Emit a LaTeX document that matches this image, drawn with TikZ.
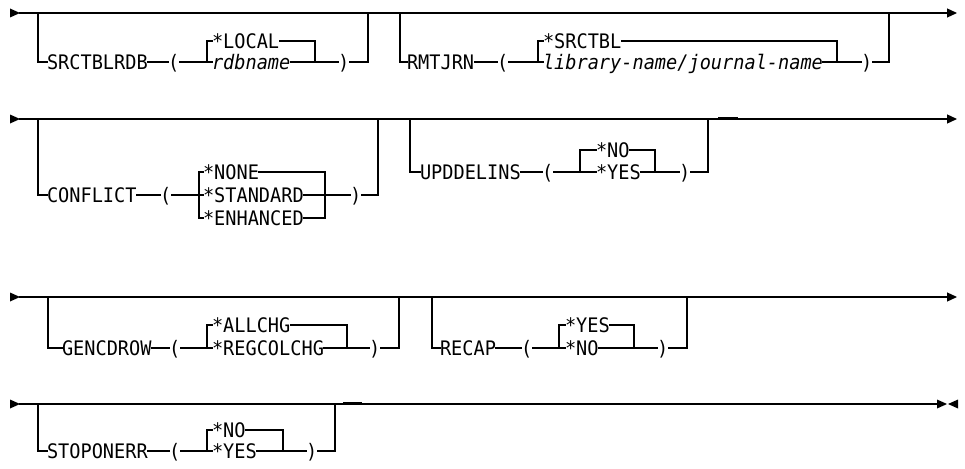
\documentclass[tikz,border=0pt]{standalone}
\usepackage{fontspec}
\usetikzlibrary{arrows.meta}
\newfontfamily\dmono{DejaVu Sans Mono}[FakeStretch=0.93]
\tikzset{
  rail/.style={line width=1.2pt, line cap=rect, line join=miter},
  word/.style={inner sep=0pt, outer sep=0pt, anchor=west, text height=14.6pt, text depth=0pt,
    font={\dmono\fontsize{20pt}{22pt}\selectfont}},
  var/.style={word, font={\dmono\itshape\fontsize{20pt}{22pt}\selectfont}},
  tipend/.style={-{Triangle[length=10pt,width=9pt]}},
  knob/.style={line width=2.6pt, line cap=butt},
}
\begin{document}
\begin{tikzpicture}[x=1pt,y=-1pt]
\useasboundingbox (0,0) rectangle (965,468);

% ---------- line 1 ----------
\coordinate (m1s) at (20,13);
\coordinate (m1e) at (957,13);
\fill (10,8.5) -- (m1s) -- (10,17.5) -- cycle;
\draw[rail,tipend] (m1s) -- (m1e);

% SRCTBLRDB
\coordinate (aL) at (38,13);
\node[word] (a1) at (47,62) {SRCTBLRDB};
\node[word] (a2) at (168,62) {(};
\node[word] (a3) at (212,41) {*LOCAL};
\node[var]  (a4) at (212,62) {rdbname};
\node[word] (a5) at (338,62) {)};
\coordinate (aS) at (207,62);
\coordinate (aR) at (315,62);
\coordinate (aB) at (368,13);
\draw[rail] (aL) |- (a1.west);
\draw[rail] (a1.east) -- (a2.west);
\draw[rail] (a2.east) -- (a4.west);
\draw[rail] (aS) |- (a3.west);
\draw[rail] (a3.east) -| (aR);
\draw[rail] (a4.east) -- (a5.west);
\draw[rail] (a5.east) -| (aB);

% RMTJRN
\coordinate (bL) at (400,13);
\node[word] (b1) at (407,62) {RMTJRN};
\node[word] (b2) at (497,62) {(};
\node[word] (b3) at (543,41) {*SRCTBL};
\node[var]  (b4) at (543,62) {library-name/journal-name};
\node[word] (b5) at (861,62) {)};
\coordinate (bS) at (538,62);
\coordinate (bR) at (837,62);
\coordinate (bB) at (889,13);
\draw[rail] (bL) |- (b1.west);
\draw[rail] (b1.east) -- (b2.west);
\draw[rail] (b2.east) -- (b4.west);
\draw[rail] (bS) |- (b3.west);
\draw[rail] (b3.east) -| (bR);
\draw[rail] (b4.east) -- (b5.west);
\draw[rail] (b5.east) -| (bB);

% ---------- line 2 ----------
\coordinate (m2s) at (20,119);
\coordinate (m2e) at (957,119);
\fill (10,114.5) -- (m2s) -- (10,123.5) -- cycle;
\draw[rail,tipend] (m2s) -- (m2e);

% CONFLICT
\coordinate (cL) at (38,119);
\node[word] (c1) at (47,195) {CONFLICT};
\node[word] (c2) at (160,195) {(};
\node[word] (c3) at (203,172) {*NONE};
\node[word] (c4) at (203,195) {*STANDARD};
\node[word] (c5) at (203,218) {*ENHANCED};
\node[word] (c6) at (350,195) {)};
\coordinate (cS) at (199,218);
\coordinate (cR) at (325,218);
\coordinate (cB) at (378,119);
\draw[rail] (cL) |- (c1.west);
\draw[rail] (c1.east) -- (c2.west);
\draw[rail] (c2.east) -- (c4.west);
\draw[rail] (c3.west) -| (cS) -- (c5.west);
\draw[rail] (c3.east) -| (cR) -- (c5.east);
\draw[rail] (c4.east) -- (c6.west);
\draw[rail] (c6.east) -| (cB);

% UPDDELINS
\coordinate (dL) at (410,119);
\node[word] (d1) at (420,172) {UPDDELINS};
\node[word] (d2) at (542,172) {(};
\node[word] (d3) at (596,150) {*NO};
\node[word] (d4) at (596,172) {*YES};
\node[word] (d5) at (679,172) {)};
\coordinate (dS) at (580,172);
\coordinate (dR) at (655,172);
\coordinate (dB) at (708,119);
\draw[rail] (dL) |- (d1.west);
\draw[rail] (d1.east) -- (d2.west);
\draw[rail] (d2.east) -- (d4.west);
\draw[rail] (dS) |- (d3.west);
\draw[rail] (d3.east) -| (dR);
\draw[rail] (d4.east) -- (d5.west);
\draw[rail] (d5.east) -| (dB);
\coordinate (dK1) at (718,118.4);
\coordinate (dK2) at (738,118.4);
\draw[knob] (dK1) -- (dK2);

% ---------- line 3 ----------
\coordinate (m3s) at (20,297);
\coordinate (m3e) at (957,297);
\fill (10,292.5) -- (m3s) -- (10,301.5) -- cycle;
\draw[rail,tipend] (m3s) -- (m3e);

% GENCDROW
\coordinate (eL) at (48,297);
\node[word] (e1) at (62,348) {GENCDROW};
\node[word] (e2) at (169,348) {(};
\node[word] (e3) at (212,325) {*ALLCHG};
\node[word] (e4) at (212,348) {*REGCOLCHG};
\node[word] (e5) at (369,348) {)};
\coordinate (eS) at (207,348);
\coordinate (eR) at (347,348);
\coordinate (eB) at (399,297);
\draw[rail] (eL) |- (e1.west);
\draw[rail] (e1.east) -- (e2.west);
\draw[rail] (e2.east) -- (e4.west);
\draw[rail] (eS) |- (e3.west);
\draw[rail] (e3.east) -| (eR);
\draw[rail] (e4.east) -- (e5.west);
\draw[rail] (e5.east) -| (eB);

% RECAP
\coordinate (fL) at (432,297);
\node[word] (f1) at (440,348) {RECAP};
\node[word] (f2) at (521,348) {(};
\node[word] (f3) at (565,325) {*YES};
\node[word] (f4) at (565,348) {*NO};
\node[word] (f5) at (657,348) {)};
\coordinate (fS) at (559,348);
\coordinate (fR) at (634,348);
\coordinate (fB) at (687,297);
\draw[rail] (fL) |- (f1.west);
\draw[rail] (f1.east) -- (f2.west);
\draw[rail] (f2.east) -- (f4.west);
\draw[rail] (fS) |- (f3.west);
\draw[rail] (f3.east) -| (fR);
\draw[rail] (f4.east) -- (f5.west);
\draw[rail] (f5.east) -| (fB);

% ---------- line 4 ----------
\coordinate (m4s) at (20,404);
\coordinate (m4e) at (937,404);
\fill (10,399.5) -- (m4s) -- (10,408.5) -- cycle;
\draw[rail] (m4s) -- (m4e);
\fill (937,399.5) -- (947,404) -- (937,408.5) -- cycle;
\fill (958,399.5) -- (948,404) -- (958,408.5) -- cycle;

% STOPONERR
\coordinate (gL) at (38,404);
\node[word] (g1) at (47,451) {STOPONERR};
\node[word] (g2) at (169,451) {(};
\node[word] (g3) at (212,430) {*NO};
\node[word] (g4) at (212,451) {*YES};
\node[word] (g5) at (306,451) {)};
\coordinate (gS) at (207,451);
\coordinate (gR) at (283,451);
\coordinate (gB) at (335,404);
\draw[rail] (gL) |- (g1.west);
\draw[rail] (g1.east) -- (g2.west);
\draw[rail] (g2.east) -- (g4.west);
\draw[rail] (gS) |- (g3.west);
\draw[rail] (g3.east) -| (gR);
\draw[rail] (g4.east) -- (g5.west);
\draw[rail] (g5.east) -| (gB);
\coordinate (gK1) at (343,403.4);
\coordinate (gK2) at (362,403.4);
\draw[knob] (gK1) -- (gK2);
\end{tikzpicture}
\end{document}
